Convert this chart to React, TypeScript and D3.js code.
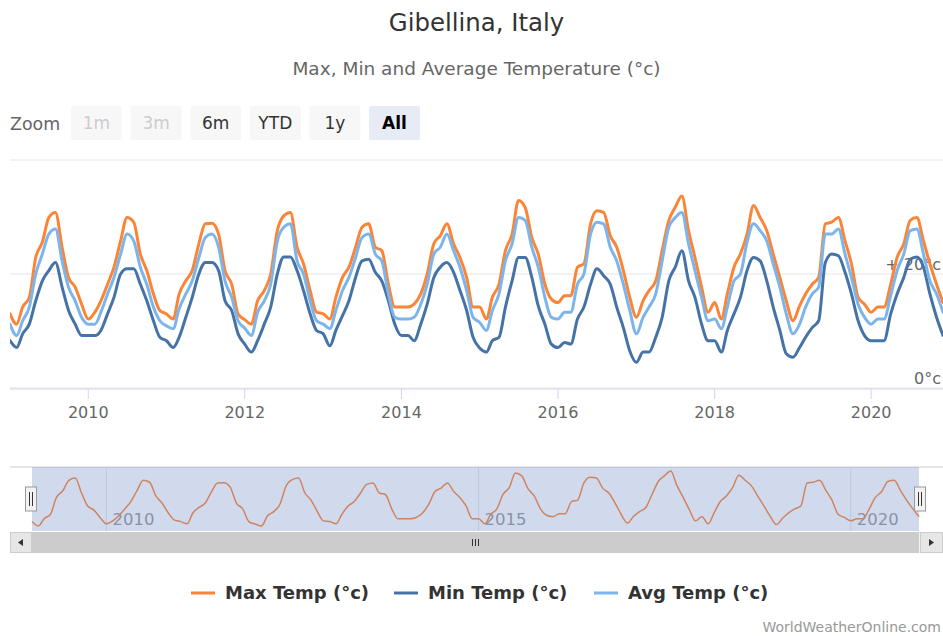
import React from "react";
import * as d3 from "d3";

const title = "Gibellina, Italy";
const subtitle = "Max, Min and Average Temperature (°c)";
const startYear = 2009;
const seriesNames = ["Max Temp (°c)", "Min Temp (°c)", "Avg Temp (°c)"];
const seriesColors = ["#fb8436", "#4572a7", "#7cb5ec"];
const zoomButtons = ["1m", "3m", "6m", "YTD", "1y", "All"];
const disabledButtons = ["1m", "3m"];
const selectedButton = "All";
const yTickValues = [0, 20, 40];
const yTickLabels = ["0°c", "+ 20°c", ""];

// monthly values Jan 2009 .. Dec 2020
const maxTemp = [
  13.0, 11.2, 14.2, 15.9, 22.9, 25.6, 29.9, 30.8, 24.7, 19.4, 17.7, 14.7,
  12.1, 13.3, 15.3, 18.2, 21.2, 25.8, 29.9, 29.1, 23.5, 20.6, 16.5, 13.6,
  13.0, 12.1, 16.5, 18.8, 20.6, 25.3, 28.8, 28.9, 27.0, 20.6, 18.2, 13.0,
  12.0, 11.2, 15.3, 17.1, 20.0, 27.6, 30.2, 30.8, 24.7, 21.8, 17.1, 13.3,
  13.0, 12.1, 15.9, 19.4, 21.2, 24.7, 28.2, 28.8, 24.7, 24.1, 18.2, 14.2,
  14.2, 14.2, 14.7, 16.5, 20.0, 25.3, 26.7, 28.8, 25.3, 22.9, 19.4, 14.2,
  14.2, 12.1, 15.9, 18.2, 24.1, 27.0, 32.9, 31.7, 26.4, 23.5, 18.2, 15.6,
  15.0, 16.2, 16.2, 21.2, 21.8, 28.8, 31.1, 30.8, 26.7, 24.7, 20.6, 15.9,
  12.4, 15.3, 17.1, 18.8, 24.1, 29.4, 31.7, 33.7, 27.6, 22.9, 17.7, 13.3,
  15.0, 12.1, 16.5, 21.2, 23.5, 27.0, 32.0, 29.9, 27.6, 23.5, 19.4, 15.3,
  11.8, 14.4, 16.5, 18.2, 19.4, 28.8, 29.1, 29.9, 25.8, 21.8, 15.9, 14.7,
  13.3, 14.2, 14.2, 18.2, 22.9, 25.3, 29.4, 29.9, 25.8, 21.8, 18.2, 15.0,
];

const minTemp = [
  8.3, 7.1, 9.5, 11.2, 15.3, 18.8, 20.6, 22.0, 17.7, 13.6, 11.2, 9.2,
  9.2, 9.2, 10.1, 13.0, 15.9, 20.0, 20.9, 20.9, 18.2, 15.3, 11.8, 8.9,
  8.3, 7.1, 8.9, 12.4, 15.9, 20.0, 22.0, 22.0, 20.6, 15.3, 13.6, 9.5,
  7.7, 6.3, 8.3, 11.2, 14.2, 20.0, 23.0, 23.0, 20.6, 17.1, 13.0, 10.1,
  9.5, 7.4, 10.1, 12.7, 15.3, 19.4, 22.3, 22.6, 20.3, 18.8, 15.3, 11.2,
  9.2, 9.2, 8.3, 11.2, 14.7, 19.4, 21.2, 22.0, 20.3, 17.1, 13.6, 8.9,
  7.0, 6.3, 8.3, 8.9, 14.2, 18.8, 22.9, 22.9, 19.4, 14.4, 11.2, 7.7,
  7.1, 8.0, 7.7, 12.1, 14.2, 18.2, 20.9, 19.7, 18.2, 14.2, 10.6, 6.5,
  4.5, 6.3, 6.3, 8.9, 12.4, 18.8, 21.2, 24.1, 18.8, 15.9, 11.2, 8.3,
  8.3, 6.3, 10.1, 13.0, 15.9, 20.6, 22.9, 22.3, 18.8, 14.2, 10.1, 6.0,
  5.4, 7.1, 8.9, 10.6, 11.8, 22.0, 23.5, 23.2, 20.3, 16.5, 11.8, 9.2,
  8.3, 8.3, 8.3, 13.0, 16.5, 19.4, 22.6, 23.0, 21.2, 16.5, 12.4, 9.2,
];

const avgTemp = [
  11.2, 9.2, 11.8, 14.2, 20.0, 23.5, 27.0, 27.9, 22.3, 17.7, 15.3, 12.4,
  11.2, 11.2, 13.3, 16.5, 19.4, 23.5, 27.0, 25.8, 21.2, 18.2, 14.2, 11.8,
  10.9, 10.4, 13.9, 16.5, 18.8, 22.9, 26.4, 27.0, 24.7, 18.8, 15.9, 11.8,
  10.5, 9.2, 13.3, 15.3, 18.2, 25.8, 28.2, 28.8, 22.3, 20.0, 15.3, 11.8,
  11.2, 10.4, 13.6, 17.1, 19.4, 22.9, 26.4, 27.0, 23.5, 22.3, 16.5, 12.4,
  12.1, 12.1, 12.4, 14.7, 18.2, 23.5, 24.7, 27.0, 24.1, 21.2, 17.1, 12.4,
  11.5, 10.1, 13.6, 16.5, 22.3, 25.3, 29.9, 29.4, 24.7, 21.2, 15.9, 12.4,
  12.1, 13.3, 13.3, 18.2, 20.0, 27.0, 29.1, 28.8, 24.7, 22.3, 18.2, 13.6,
  9.5, 12.4, 14.2, 16.5, 22.3, 28.2, 29.9, 30.8, 25.3, 20.6, 15.9, 11.8,
  12.1, 10.4, 14.2, 18.8, 20.0, 25.6, 28.8, 27.6, 25.8, 21.8, 17.7, 13.0,
  9.5, 11.2, 14.2, 16.5, 17.7, 27.0, 27.0, 27.9, 23.5, 19.4, 14.7, 12.4,
  11.2, 12.1, 12.1, 16.2, 20.6, 23.5, 27.6, 27.9, 23.5, 18.8, 16.5, 13.3,
];

const FONT = "'DejaVu Sans', sans-serif";

export default function App() {
  const W = 943;
  const H = 636;
  const dates = maxTemp.map((_, i) => new Date(startYear, i, 1));
  const series = [maxTemp, minTemp, avgTemp];
  const domain: [Date, Date] = [dates[0], dates[dates.length - 1]];

  const plotL = 10, plotR = 943, plotT = 160, plotB = 388;
  const x = d3.scaleTime().domain(domain).range([plotL, plotR]);
  const y = d3.scaleLinear().domain([0, 40]).range([plotB, plotT]);

  const line = (vals: number[]) =>
    d3.line<number>()
      .x((_, i) => x(dates[i]))
      .y((d) => y(d))
      .curve(d3.curveMonotoneX)(vals) || "";

  const xTicks = x.ticks(d3.timeYear.every(2) as any);

  // navigator
  const navT = 467, navB = 531, navL = 32, navR = 919;
  const nx = d3.scaleTime().domain(domain).range([navL, navR]);
  const ext = d3.extent(maxTemp) as [number, number];
  const ny = d3.scaleLinear().domain(ext).range([526, 471]);
  const navLine = d3.line<number>()
    .x((_, i) => nx(dates[i]))
    .y((d) => ny(d))
    .curve(d3.curveMonotoneX)(maxTemp) || "";
  const navTicks = nx.ticks(d3.timeYear.every(5) as any);

  const sbT = 532, sbH = 21;

  const btnX0 = 71, btnStep = 59.6, btnW = 51, btnY = 106, btnH = 34;

  const legendSymX = [191, 394, 594];

  const handle = (cx: number) => (
    <g key={cx}>
      <rect x={cx - 5.5} y={487} width={11} height={24} fill="#f2f2f2" stroke="#999" strokeWidth={1} rx={0} />
      <line x1={cx - 1.5} x2={cx - 1.5} y1={492} y2={506} stroke="#333" strokeWidth={1} />
      <line x1={cx + 1.5} x2={cx + 1.5} y1={492} y2={506} stroke="#333" strokeWidth={1} />
    </g>
  );

  return (
    <svg
      width={W}
      height={H}
      style={{ position: "absolute", left: 0, top: 0, background: "#fff" }}
      fontFamily={FONT}
    >
      <rect x={0} y={0} width={W} height={H} fill="#fff" />
      <defs>
        <clipPath id="plotClip">
          <rect x={plotL} y={plotT - 20} width={plotR - plotL} height={plotB - plotT + 30} />
        </clipPath>
      </defs>

      <text x={476.5} y={31} textAnchor="middle" fontSize={24.4} fill="#333">{title}</text>
      <text x={476.5} y={75} textAnchor="middle" fontSize={18.5} fill="#666">{subtitle}</text>

      {/* range selector */}
      <text x={10} y={130} fontSize={17.4} fill="#666">Zoom</text>
      {zoomButtons.map((b, i) => {
        const bx = btnX0 + i * btnStep;
        const disabled = disabledButtons.includes(b);
        const sel = b === selectedButton;
        return (
          <g key={b}>
            <rect x={bx} y={btnY} width={btnW} height={btnH} rx={2}
              fill={sel ? "#e6ebf5" : "#f7f7f7"} />
            <text x={bx + btnW / 2} y={129} textAnchor="middle" fontSize={17}
              fontWeight={sel ? "bold" : "normal"}
              fill={disabled ? "#cccccc" : sel ? "#000" : "#333"}>{b}</text>
          </g>
        );
      })}

      {/* grid */}
      {yTickValues.map((v) => (
        <line key={v} x1={plotL} x2={plotR} y1={y(v)} y2={y(v)} stroke="#e6e6e6" strokeWidth={1} />
      ))}
      {yTickValues.map((v, i) => yTickLabels[i] ? (
        <text key={"yl" + v} x={941} y={y(v) - 4} textAnchor="end" fontSize={16} fill="#666">{yTickLabels[i]}</text>
      ) : null)}

      {/* x axis */}
      <line x1={plotL} x2={plotR} y1={plotB + 1} y2={plotB + 1} stroke="#ccd6eb" strokeWidth={1} />
      {xTicks.map((t) => (
        <g key={+t}>
          <line x1={x(t)} x2={x(t)} y1={plotB + 1} y2={plotB + 11} stroke="#ccd6eb" strokeWidth={1} />
          <text x={x(t)} y={418} textAnchor="middle" fontSize={16} fill="#666">{d3.timeFormat("%Y")(t)}</text>
        </g>
      ))}

      {/* series */}
      <g clipPath="url(#plotClip)">
        {series.map((s, i) => (
          <path key={i} d={line(s)} fill="none" stroke={seriesColors[i]} strokeWidth={3}
            strokeLinejoin="round" strokeLinecap="round" />
        ))}
      </g>

      {/* navigator */}
      <line x1={10} x2={943} y1={navT} y2={navT} stroke="#cccccc" strokeWidth={1} />
      {navTicks.map((t) => (
        <g key={"n" + +t}>
          <line x1={nx(t)} x2={nx(t)} y1={navT} y2={navB} stroke="#e6e6e6" strokeWidth={1} />
          <text x={nx(t) + 6} y={525} fontSize={16.5} fill="#999">{d3.timeFormat("%Y")(t)}</text>
        </g>
      ))}
      <path d={navLine} fill="none" stroke={seriesColors[0]} strokeWidth={1.5} />
      <rect x={navL} y={navT} width={navR - navL} height={navB - navT} fill="rgba(102,133,194,0.3)" />
      {handle(navL - 1)}
      {handle(navR + 1)}

      {/* scrollbar */}
      <rect x={10} y={sbT} width={933} height={sbH} fill="#f2f2f2" />
      <rect x={navL} y={sbT} width={navR - navL} height={sbH} fill="#cccccc" />
      {[-3, 0, 3].map((d) => (
        <line key={d} x1={(navL + navR) / 2 + d} x2={(navL + navR) / 2 + d} y1={sbT + 7} y2={sbT + 14} stroke="#333" strokeWidth={1} />
      ))}
      <rect x={10.5} y={sbT + 0.5} width={21} height={sbH - 1} fill="#e6e6e6" stroke="#cccccc" strokeWidth={1} />
      <path d={`M ${23} ${sbT + 7} L ${23} ${sbT + 14} L ${18} ${sbT + 10.5} Z`} fill="#333" />
      <rect x={920.5} y={sbT + 0.5} width={22} height={sbH - 1} fill="#e6e6e6" stroke="#cccccc" strokeWidth={1} />
      <path d={`M ${929} ${sbT + 7} L ${929} ${sbT + 14} L ${934} ${sbT + 10.5} Z`} fill="#333" />

      {/* legend */}
      {seriesNames.map((n, i) => (
        <g key={n}>
          <line x1={legendSymX[i]} x2={legendSymX[i] + 24} y1={593} y2={593} stroke={seriesColors[i]} strokeWidth={3} />
          <text x={legendSymX[i] + 34} y={599} fontSize={18} fontWeight="bold" fill="#333">{n}</text>
        </g>
      ))}

      <text x={941} y={632} textAnchor="end" fontSize={14} fill="#999">WorldWeatherOnline.com</text>
    </svg>
  );
}
